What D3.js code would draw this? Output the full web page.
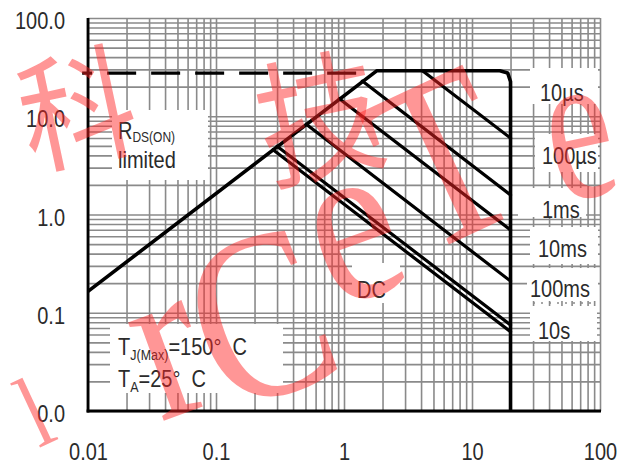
<!DOCTYPE html>
<html>
<head>
<meta charset="utf-8">
<script src="https://cdn.jsdelivr.net/npm/d3@7"></script>
<style>
  body { margin: 0; background: #fff; }
  svg { display: block; }
  text { white-space: pre; }
</style>
</head>
<body>
<svg id="chart" width="634" height="468"></svg>
<script>
// ---- data -------------------------------------------------------------
const xTicks = [0.01, 0.1, 1, 10, 100];
const xTickLabels = ["0.01", "0.1", "1", "10", "100"];
const yTicks = [0.01, 0.1, 1, 10, 100];
const yTickLabels = ["0.0", "0.1", "1.0", "10.0", "100.0"];

// safe operating envelope [VDS (V), ID (A)]: RDS(on) slope, current ceiling, VDS max
const envelope = [[0.01, 0.165], [1.8, 29], [16.5, 29], [19.0, 27.6], [20, 22.5], [20, 0.01]];
// pulsed drain current rating (dashed)
const pulsedLimit = [[0.009, 27.5], [1.25, 27.5]];
// single-pulse limits, each from the RDS(on)/ceiling boundary to VDS max
const pulseNames = ["10µs", "100µs", "1ms", "10ms", "10s", "DC"];
const pulseLines = [
  [[4.1, 29], [20, 6.0]],
  [[1.39, 22.8], [20, 1.58]],
  [[0.92, 15.1], [20, 0.695]],
  [[0.507, 8.3], [20, 0.21]],
  [[0.30, 4.96], [20, 0.075]],
  [[0.279, 4.57], [20, 0.064]]
];
const durationLabels = ["10µs", "100µs", "1ms", "10ms", "100ms", "10s"];

// ---- layout -----------------------------------------------------------
const W = 634, H = 468;
const plot = { left: 88, right: 600, top: 18, bottom: 411 };
const FONT = "'Liberation Sans', Arial, Helvetica, sans-serif";
const SY = 1.2;            // tall lettering
const textColor = "#2b2b2b";

const svg = d3.select("#chart");
const x = d3.scaleLog().domain([0.01, 100]).range([plot.left, plot.right]);
const y = d3.scaleLog().domain([0.01, 100]).range([plot.bottom, plot.top]);

// minor grid: 1..9 in every decade
const gridVals = [0.01, 0.1, 1, 10].flatMap(d => d3.range(1, 10).map(k => +(k * d).toPrecision(3))).concat([100]);

const grid = svg.append("g").attr("class", "grid");
grid.append("g")
  .attr("transform", `translate(0,${plot.bottom})`)
  .call(d3.axisBottom(x).tickValues(gridVals).tickFormat("").tickSize(-(plot.bottom - plot.top)).tickSizeOuter(0));
grid.append("g")
  .attr("transform", `translate(${plot.left},0)`)
  .call(d3.axisLeft(y).tickValues(gridVals).tickFormat("").tickSize(-(plot.right - plot.left)).tickSizeOuter(0));
grid.selectAll(".domain").remove();
grid.selectAll("line").attr("stroke", "#8a8a8a").attr("stroke-width", 1.6);

// white panels behind the annotations
const panels = [
  [112, 110, 208, 180],   // RDS(on) limited
  [110, 324, 283, 393],   // temperature note
  [352, 263, 400, 303],   // DC
  [530, 68, 598, 104],    // 10µs
  [535, 134, 598, 172],   // 100µs
  [518, 188, 586, 217],   // 1ms
  [530, 227, 598, 264],   // 10ms
  [527, 268, 598, 301],   // 100ms
  [530, 306, 597, 341]    // 10s
];
svg.append("g").selectAll("rect").data(panels).join("rect")
  .attr("x", d => d[0]).attr("y", d => d[1])
  .attr("width", d => d[2] - d[0]).attr("height", d => d[3] - d[1])
  .attr("fill", "#fff");
svg.append("line")
  .attr("x1", 533).attr("x2", 595).attr("y1", 303).attr("y2", 303)
  .attr("stroke", "#8a8a8a").attr("stroke-width", 1.6).attr("stroke-dasharray", "2,6");

// ---- curves -----------------------------------------------------------
const line = d3.line().x(d => x(d[0])).y(d => y(d[1]));

svg.append("path").datum(pulsedLimit)
  .attr("d", line).attr("fill", "none")
  .attr("stroke", "#000").attr("stroke-width", 3.2)
  .attr("stroke-dasharray", "29,15").attr("stroke-dashoffset", 19);

svg.append("g").selectAll("path").data(pulseLines).join("path")
  .attr("class", (d, i) => "pulse p" + i)
  .attr("d", line).attr("fill", "none")
  .attr("stroke", "#000").attr("stroke-width", 3.2).attr("stroke-linecap", "round");

svg.append("path").datum(envelope)
  .attr("d", line).attr("fill", "none")
  .attr("stroke", "#000").attr("stroke-width", 3.6)
  .attr("stroke-linejoin", "round");

// frame: black left and bottom edges
svg.append("line").attr("x1", plot.left).attr("x2", plot.left)
  .attr("y1", plot.top).attr("y2", plot.bottom + 1.5)
  .attr("stroke", "#000").attr("stroke-width", 2.8);
svg.append("line").attr("x1", plot.left - 1.4).attr("x2", plot.right + 1)
  .attr("y1", plot.bottom).attr("y2", plot.bottom)
  .attr("stroke", "#000").attr("stroke-width", 3);

// ---- axes labels ------------------------------------------------------
const xAxis = svg.append("g")
  .attr("transform", `translate(0,${plot.bottom})`)
  .call(d3.axisBottom(x).tickValues(xTicks).tickFormat((d, i) => xTickLabels[i]).tickSize(0));
const yAxis = svg.append("g")
  .attr("transform", `translate(${plot.left},0)`)
  .call(d3.axisLeft(y).tickValues(yTicks).tickFormat((d, i) => yTickLabels[i]).tickSize(0).tickPadding(23));
[xAxis, yAxis].forEach(a => {
  a.select(".domain").remove();
  a.selectAll("text")
    .attr("font-family", FONT).attr("font-size", 20).attr("fill", textColor)
    .attr("dy", null).attr("transform", `scale(1,${SY})`);
});
xAxis.selectAll("text").attr("y", 49 / SY);
yAxis.selectAll("text").attr("y", 10.5 / SY);

// ---- annotations ------------------------------------------------------
function label(g, px, py, parts) {
  const t = g.append("text")
    .attr("transform", `translate(${px},${py}) scale(1,${SY})`)
    .attr("font-family", FONT).attr("fill", textColor);
  parts.forEach(p => {
    t.append("tspan").attr("font-size", p.size || 20)
      .attr("dy", p.dy || 0).text(p.t);
  });
  return t;
}
const notes = svg.append("g");
label(notes, 118, 139, [{ t: "R" }, { t: "DS(ON)", size: 12, dy: 2.5 }]);
label(notes, 118, 168, [{ t: "limited" }]);
label(notes, 118, 355, [{ t: "T" }, { t: "J(Max)", size: 12.5, dy: 4.5 }, { t: "=150°  C", dy: -4.5 }]);
label(notes, 118, 387, [{ t: "T" }, { t: "A", size: 12.5, dy: 4.5 }, { t: "=25°  C", dy: -4.5 }]);
label(notes, 357, 298, [{ t: "DC" }]);

const durX = [540, 542, 542, 538, 530, 538];
const durY = [101, 164, 218, 257, 297, 339];
durationLabels.forEach((s, i) => label(notes, durX[i], durY[i], [{ t: s }]));

// ---- overlay lettering ------------------------------------------------
const stamp = svg.append("g").attr("fill", "#ff2424").attr("fill-opacity", 0.48);
const glyphs = [
  { t: "科", cx: 50, cy: 80, size: 115, rot: -12, sy: 1.1, font: "'Noto Sans CJK SC', sans-serif", off: 0.35 },
  { t: "技", cx: 320, cy: 70, size: 125, rot: -12, sy: 1.1, font: "'Noto Sans CJK SC', sans-serif", off: 0.35 },
  { t: "e", cx: 598, cy: 122, size: 150, rot: -12, sy: 1.45, off: 0.23 },
  { t: "T", cx: 443, cy: 160, size: 200, rot: -25, sy: 1.2, off: 0.33 },
  { t: "e", cx: 357, cy: 244, size: 195, rot: -20, sy: 1.2, off: 0.23 },
  { t: "C", cx: 260, cy: 318, size: 200, rot: -20, sy: 1.2, off: 0.33 },
  { t: "r", cx: 172, cy: 385, size: 190, rot: -20, sy: 1.2, off: 0.23 },
  { t: "l", cx: 22, cy: 430, size: 85, rot: -25, sy: 1.2, off: 0.35 }
];
glyphs.forEach(g => {
  const place = (cx, cy) => `translate(${cx},${cy}) rotate(${g.rot}) scale(1,${g.sy})`;
  const t = stamp.append("text")
    .attr("transform", place(g.cx, g.cy))
    .attr("y", g.off * g.size)
    .attr("text-anchor", "middle")
    .attr("font-family", g.font || "'Liberation Serif', 'DejaVu Serif', serif")
    .attr("font-size", g.size)
    .text(g.t);
  // keep each letter's box on the canvas
  const b = t.node().getBoundingClientRect();
  const dx = Math.max(0, -b.left) - Math.max(0, b.right - W);
  const dy = Math.max(0, -b.top) - Math.max(0, b.bottom - H);
  if (dx || dy) t.attr("transform", place(g.cx + dx, g.cy + dy));
});
</script>
</body>
</html>
